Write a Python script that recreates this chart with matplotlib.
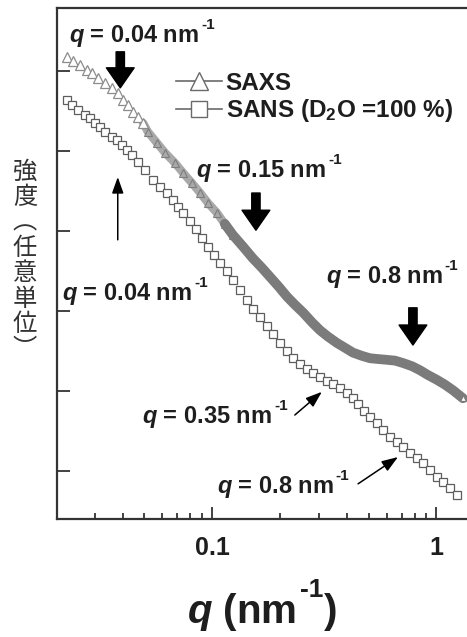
"""SAXS / SANS profiles with q markers (log q axis, log intensity in arbitrary units)."""

import matplotlib
matplotlib.use("Agg")
import matplotlib.pyplot as plt
from matplotlib.lines import Line2D
from matplotlib.ticker import FixedLocator, FixedFormatter, NullLocator

plt.rcParams["font.family"] = ["Liberation Sans", "DejaVu Sans"]
plt.rcParams["mathtext.fontset"] = "custom"
plt.rcParams["mathtext.rm"] = "Liberation Sans:bold"
plt.rcParams["mathtext.bf"] = "Liberation Sans:bold"
plt.rcParams["mathtext.it"] = "Liberation Sans:italic:bold"

# SAXS: q (nm^-1) and log10 intensity (arbitrary units)
q_saxs = [0.0226, 0.0240, 0.0258, 0.0277, 0.0292, 0.0310, 0.0333, 0.0358, 0.0381,
          0.0401, 0.0422, 0.0444, 0.0468, 0.0493, 0.0518, 0.0569, 0.0617, 0.0684,
          0.0742, 0.0814, 0.0884, 0.0960, 0.105, 0.114, 0.124, 0.138, 0.152, 0.167,
          0.181, 0.199, 0.216, 0.234, 0.255, 0.279, 0.303, 0.329, 0.361, 0.392,
          0.425, 0.466, 0.506, 0.550, 0.603, 0.655, 0.711, 0.780, 0.846, 0.918,
          1.007, 1.093, 1.187, 1.315]
logI_saxs = [5.18, 5.13, 5.08, 5.01, 4.98, 4.91, 4.85, 4.79, 4.73,
             4.64, 4.58, 4.49, 4.43, 4.35, 4.24, 4.10, 3.98, 3.85,
             3.73, 3.60, 3.48, 3.35, 3.23, 3.09, 2.95, 2.80, 2.66, 2.54,
             2.43, 2.30, 2.18, 2.08, 1.98, 1.86, 1.76, 1.68, 1.60, 1.54,
             1.48, 1.44, 1.41, 1.40, 1.39, 1.38, 1.35, 1.31, 1.26, 1.20,
             1.14, 1.08, 1.01, 0.91]

# SANS (D2O = 100 %)
q_sans = [0.0226, 0.0238, 0.0253, 0.0272, 0.0286, 0.0301, 0.0317, 0.0333, 0.0358,
          0.0377, 0.0397, 0.0418, 0.0440, 0.0468, 0.0503, 0.0546, 0.0587, 0.0630,
          0.0670, 0.0705, 0.0742, 0.0798, 0.0849, 0.0902, 0.0960, 0.102, 0.109,
          0.117, 0.124, 0.133, 0.143, 0.152, 0.164, 0.176, 0.187, 0.201, 0.216,
          0.230, 0.247, 0.265, 0.282, 0.303, 0.326, 0.346, 0.372, 0.400, 0.425,
          0.448, 0.476, 0.506, 0.544, 0.579, 0.622, 0.668, 0.711, 0.764, 0.820,
          0.872, 0.937, 1.007, 1.071, 1.151, 1.237]
logI_sans = [4.64, 4.58, 4.51, 4.45, 4.41, 4.35, 4.30, 4.24, 4.18,
             4.14, 4.08, 4.01, 3.95, 3.86, 3.76, 3.64, 3.55, 3.48,
             3.39, 3.30, 3.23, 3.13, 3.03, 2.91, 2.80, 2.70, 2.60,
             2.50, 2.39, 2.26, 2.14, 2.03, 1.93, 1.81, 1.71, 1.60, 1.50,
             1.41, 1.34, 1.28, 1.23, 1.18, 1.13, 1.09, 1.04, 0.98, 0.91,
             0.84, 0.75, 0.68, 0.60, 0.51, 0.43, 0.36, 0.30, 0.23, 0.16,
             0.10, 0.01, -0.08, -0.14, -0.21, -0.30]

x_ticks = [0.1, 1]
x_ticklabels = ["0.1", "1"]
x_minor = [0.03, 0.04, 0.05, 0.06, 0.07, 0.08, 0.09,
           0.2, 0.3, 0.4, 0.5, 0.6, 0.7, 0.8, 0.9]

SAXS_C = "#7b7b7b"
SANS_C = "#5e5e5e"
INK = "#1e1e1e"

fig = plt.figure(figsize=(4.67, 6.37), dpi=100)
ax = fig.add_axes([0.1221, 0.1852, 0.8779, 0.8022])


def pick(qs, ys, lo, hi):
    idx = [i for i, q in enumerate(qs) if lo <= q < hi]
    return [qs[i] for i in idx], [ys[i] for i in idx]


# SAXS: light hatched band where triangles start to crowd, solid band beyond
qx, yx = pick(q_saxs, logI_saxs, 0.048, 0.13)
ax.plot(qx, yx, color="#a9a9a9", lw=6, solid_capstyle="round", zorder=2)
ax.plot(qx, yx, ls="none", marker="^", ms=5.5, mfc="none", mec="#7d7d7d", mew=0.8, zorder=2)
qx, yx = pick(q_saxs, logI_saxs, 0.11, 10)
ax.plot(qx, yx, color=SAXS_C, lw=7, solid_capstyle="round", solid_joinstyle="round", zorder=2)
qx, yx = pick(q_saxs, logI_saxs, 0, 0.05)
ax.plot(qx, yx, ls="none", marker="^", ms=6.5, mfc="white", mec="#8c8c8c", mew=0.9, zorder=3)
ax.plot(q_saxs[-1:], logI_saxs[-1:], ls="none", marker="^", ms=5,
        mfc="white", mec=SAXS_C, mew=0.9, zorder=3)

ax.plot(q_sans, logI_sans, ls="none", marker="s", ms=5.8, mfc="white",
        mec=SANS_C, mew=0.9, zorder=3)

ax.set_xscale("log")
ax.set_xlim(0.02037, 1.371)
ax.set_ylim(-0.6, 5.7875)

ax.xaxis.set_major_locator(FixedLocator(x_ticks))
ax.xaxis.set_major_formatter(FixedFormatter(x_ticklabels))
ax.xaxis.set_minor_locator(FixedLocator(x_minor))
ax.xaxis.set_minor_formatter(FixedFormatter([]))
ax.yaxis.set_major_locator(FixedLocator([0, 1, 2, 3, 4, 5]))
ax.yaxis.set_minor_locator(NullLocator())
ax.set_yticklabels([])

ax.tick_params(which="both", direction="in", color="#333333", width=1.3)
ax.tick_params(axis="x", which="major", length=9, pad=12, labelsize=18, labelcolor=INK)
ax.tick_params(axis="x", which="minor", length=4)
ax.tick_params(axis="y", which="major", length=9)
for lab in ax.get_xticklabels():
    lab.set_fontweight("bold")

for side in ("left", "bottom", "top"):
    ax.spines[side].set_linewidth(1.6)
    ax.spines[side].set_color("#333333")
ax.spines["right"].set_visible(False)

# x axis title: q (nm^-1) with a raised small "-1"
base = 0.0215
xl = fig.text(187 / 467, base, r"$q$ (nm", fontsize=29, fontweight="bold",
              color=INK, ha="left", va="baseline")
sup = ax.annotate("-1", xy=(1, base), xycoords=(xl, "figure fraction"), xytext=(3, 19),
                  textcoords="offset points", fontsize=19, fontweight="bold", color=INK,
                  ha="left", va="baseline", annotation_clip=False)
ax.annotate(")", xy=(1, base), xycoords=(sup, "figure fraction"), xytext=(0.5, 0),
            textcoords="offset points", fontsize=29, fontweight="bold", color=INK,
            ha="left", va="baseline", annotation_clip=False)

fig.text(0.0535, 0.591, "強\n度\n︵\n任\n意\n単\n位\n︶", family=["Noto Sans CJK JP", "DejaVu Sans"],
         fontsize=17.5, ha="center", va="center", linespacing=0.97, color="#333333")

# q labels
lab_kw = dict(fontsize=17, fontweight="bold", color=INK, ha="left", va="baseline", zorder=5)


def qlabel(x, y, value):
    t = ax.text(x, y, rf"$q$ = {value} nm", **lab_kw)
    ax.annotate("-1", xy=(1, y), xycoords=(t, "data"), xytext=(1.5, 9.5),
                textcoords="offset points", fontsize=11, fontweight="bold",
                color=INK, ha="left", va="baseline", zorder=5)


qlabel(0.0231, 5.36, "0.04")
qlabel(0.0849, 3.675, "0.15")
qlabel(0.322, 2.35, "0.8")
qlabel(0.0215, 2.14, "0.04")
qlabel(0.0487, 0.60, "0.35")
qlabel(0.1050, -0.275, "0.8")

# thick arrows (SAXS)
thick = dict(arrowstyle="simple,head_length=0.72,head_width=1.0,tail_width=0.3",
             fc="black", ec="black", shrinkA=0, shrinkB=0, mutation_scale=20)
for qa, y0, y1 in [(0.039, 5.24, 4.79), (0.157, 3.475, 3.01), (0.787, 2.04, 1.575)]:
    ax.annotate("", xy=(qa, y1), xytext=(qa, y0), arrowprops=thick, zorder=5)

# thin arrows (SANS)
thin = dict(arrowstyle="-|>,head_length=0.7,head_width=0.25", fc="black", ec="black",
            lw=1.1, shrinkA=0, shrinkB=0, mutation_scale=14)
for (x0, y0), (x1, y1) in [((0.038, 2.89), (0.038, 3.675)),
                           ((0.234, 0.70), (0.309, 0.99)),
                           ((0.448, -0.16), (0.675, 0.175))]:
    ax.annotate("", xy=(x1, y1), xytext=(x0, y0), arrowprops=thin, zorder=5)

handles = [
    Line2D([], [], color="#6a6a6a", lw=1.2, marker="^", ms=13, mfc="white", mec="#6a6a6a"),
    Line2D([], [], color="#6a6a6a", lw=1.2, marker="s", ms=11, mfc="white", mec="#6a6a6a"),
]
ax.legend(handles, ["SAXS", "SANS (D$_2$O =100 %)"], loc="upper left",
          bbox_to_anchor=(0.29, 0.875), frameon=False, handlelength=1.9,
          handletextpad=0.15, labelspacing=0.1, borderpad=0, borderaxespad=0,
          prop=dict(family="Liberation Sans", weight="bold", size=17.5),
          labelcolor=INK)

fig.savefig("out.png", dpi=100)
